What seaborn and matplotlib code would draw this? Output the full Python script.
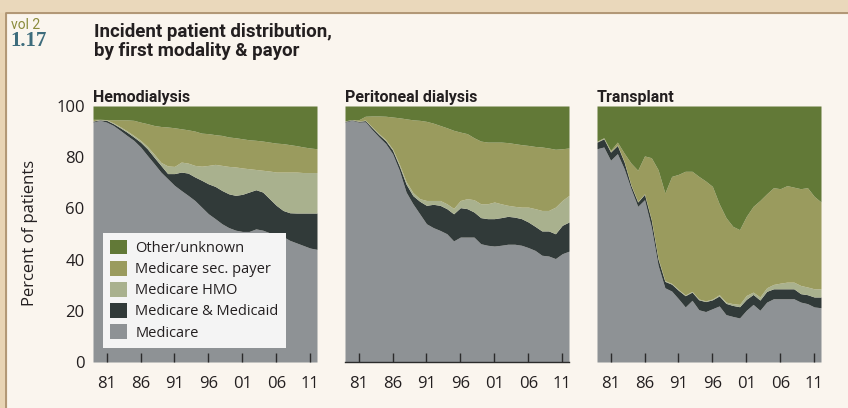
import numpy as np
import matplotlib.pyplot as plt
from matplotlib.patches import Rectangle, Patch
from matplotlib.lines import Line2D
import seaborn as sns

# incident patients by first modality & payor, percent (upper edge of each band, stacked)
years = np.arange(1979, 2013)
tick_years = [1981, 1986, 1991, 1996, 2001, 2006, 2011]
tick_labels = ['81', '86', '91', '96', '01', '06', '11']

payers = ['Medicare', 'Medicare & Medicaid', 'Medicare HMO', 'Medicare sec. payer', 'Other/unknown']
colors = ['#8e9295', '#313a39', '#a9b18e', '#9a9b5e', '#627937']

hd_medicare = [93.7, 94.4, 93.7, 92.4, 90.5, 88.5, 86.6, 84.0, 80.7, 77.5, 74.2, 71.6, 69.0, 67.0, 65.1, 63.1, 60.5,
               57.9, 56.0, 54.0, 52.5, 51.5, 51.0, 51.0, 52.0, 51.5, 50.5, 50.0, 49.0, 47.5, 46.5, 45.5, 44.5, 44.0]
hd_medicaid = [94.1, 94.6, 94.4, 93.1, 91.5, 89.8, 87.9, 85.9, 83.3, 80.0, 76.8, 73.6, 73.6, 74.2, 73.8, 72.3, 71.0,
               69.6, 68.6, 67.0, 65.7, 65.1, 65.5, 66.4, 67.3, 66.4, 63.8, 61.2, 59.2, 58.3, 58.2, 58.2, 58.2, 58.2]
hd_hmo = [94.2, 94.8, 94.6, 93.4, 91.9, 90.3, 88.5, 86.6, 84.2, 81.2, 78.0, 76.6, 76.4, 78.1, 77.7, 76.8, 76.5,
          76.8, 77.2, 76.8, 76.4, 76.2, 75.8, 75.5, 75.2, 74.9, 74.6, 74.2, 74.2, 74.2, 74.2, 74.0, 74.0, 74.0]
hd_msp = [94.8, 94.8, 94.7, 94.6, 94.6, 94.6, 94.4, 93.7, 93.1, 92.4, 92.0, 91.8, 91.5, 91.1, 90.7, 90.2, 89.4,
          89.2, 88.8, 88.5, 87.9, 87.6, 87.2, 86.8, 86.6, 86.3, 85.9, 85.5, 85.3, 84.9, 84.5, 84.0, 83.6, 83.3]

pd_medicare = [93.7, 94.4, 93.7, 93.8, 90.7, 87.9, 85.3, 81.4, 74.9, 66.4, 61.8, 57.9, 54.0, 52.5, 51.4, 50.1, 47.3,
               48.8, 48.8, 48.8, 46.2, 45.6, 45.3, 45.6, 46.0, 46.0, 45.6, 44.7, 43.6, 41.7, 41.4, 40.4, 42.3, 43.3]
pd_medicaid = [94.0, 94.6, 94.0, 94.3, 91.5, 88.8, 86.4, 82.8, 76.6, 69.5, 65.0, 62.8, 61.2, 61.6, 61.2, 59.9, 57.9,
               60.3, 59.9, 58.6, 56.4, 56.0, 56.0, 56.4, 56.9, 56.6, 56.0, 54.7, 53.0, 51.2, 51.2, 50.1, 53.4, 54.7]
pd_hmo = [94.1, 94.7, 94.1, 94.5, 91.8, 89.2, 86.8, 83.3, 77.3, 70.5, 66.2, 63.8, 63.1, 63.1, 63.1, 61.8, 60.0,
          63.1, 63.8, 63.4, 61.8, 61.8, 62.5, 61.8, 61.2, 60.8, 60.5, 60.5, 59.9, 59.2, 59.2, 60.5, 63.1, 65.1]
pd_msp = [94.2, 94.7, 94.6, 96.0, 96.1, 96.1, 96.0, 95.7, 95.4, 95.0, 94.6, 94.4, 94.0, 93.3, 92.4, 91.5, 90.5,
          89.8, 89.2, 87.6, 86.3, 85.9, 85.9, 85.9, 85.7, 85.3, 84.9, 84.6, 84.2, 84.0, 83.6, 83.1, 83.3, 83.6]

tx_medicare = [83.3, 84.0, 78.8, 81.4, 75.5, 67.7, 60.8, 63.4, 52.7, 37.8, 29.0, 27.7, 24.7, 21.5, 24.1, 20.4, 19.7,
               20.8, 21.9, 18.5, 17.8, 17.2, 20.2, 22.5, 20.2, 23.4, 24.7, 24.7, 24.7, 24.7, 23.4, 22.8, 21.5, 21.2]
tx_medicaid = [85.9, 87.2, 82.0, 84.6, 78.1, 69.0, 62.5, 65.5, 55.5, 40.2, 31.5, 30.4, 28.0, 25.9, 27.3, 24.3, 23.6,
               24.3, 25.8, 22.9, 22.1, 21.6, 24.5, 26.4, 24.2, 27.6, 28.6, 28.6, 28.6, 28.6, 26.7, 26.3, 25.4, 25.4]
tx_hmo = [86.1, 87.4, 82.2, 84.8, 78.3, 69.2, 62.7, 65.7, 55.7, 40.5, 31.8, 30.7, 28.3, 26.2, 27.6, 24.6, 23.9,
          24.6, 26.3, 23.4, 22.8, 22.5, 26.0, 27.3, 25.4, 29.0, 30.3, 30.8, 31.2, 31.2, 29.9, 29.3, 28.6, 28.6]
tx_msp = [86.3, 87.6, 82.7, 85.9, 81.6, 77.7, 74.9, 80.5, 79.8, 75.1, 66.0, 72.5, 73.3, 74.5, 74.5, 72.5, 70.7,
          68.6, 61.8, 56.4, 53.0, 51.7, 56.9, 60.8, 63.1, 65.7, 68.1, 67.7, 68.9, 68.3, 67.7, 68.1, 64.7, 62.5]

panels = [
    ('Hemodialysis', [hd_medicare, hd_medicaid, hd_hmo, hd_msp]),
    ('Peritoneal dialysis', [pd_medicare, pd_medicaid, pd_hmo, pd_msp]),
    ('Transplant', [tx_medicare, tx_medicaid, tx_hmo, tx_msp]),
]

sns.set_theme(style='white')
plt.rcParams['font.family'] = ['Open Sans', 'DejaVu Sans']
narrow = ['Liberation Sans Narrow', 'Roboto', 'DejaVu Sans']
ink = '#231f20'

W, H = 848, 408
fig = plt.figure(figsize=(W / 100, H / 100), dpi=100)
fig.patch.set_facecolor('#faf5ee')

# page frame
fig.patches.append(Rectangle((0, 1 - 13 / H), 1, 13 / H, transform=fig.transFigure, color='#ead8bb', zorder=0))
fig.patches.append(Rectangle((0, 0), 6 / W, 1 - 13 / H, transform=fig.transFigure, color='#e8d4b4', zorder=0))
fig.lines.append(Line2D([6 / W, 6 / W, 1], [0, 1 - 13 / H, 1 - 13 / H], transform=fig.transFigure,
                        color='#ad9270', lw=1.3))

fig.text(11 / W, 1 - 29 / H, 'vol 2', fontsize=10, color='#8a8b3b', family=narrow, va='baseline')
fig.text(10 / W, 1 - 46 / H, '1.17', fontsize=15, color='#3d6c7c', family='Liberation Serif',
         weight='bold', va='baseline')
fig.text(94 / W, 1 - 37 / H, 'Incident patient distribution,', fontsize=13.5, weight='bold',
         family=narrow, color=ink, va='baseline')
fig.text(94 / W, 1 - 56 / H, 'by first modality & payor', fontsize=13.5, weight='bold',
         family=narrow, color=ink, va='baseline')
fig.text(30 / W, 1 - 233 / H, 'Percent of patients', rotation=90, ha='center', va='center',
         fontsize=12, color=ink)

lefts = [93, 345, 597]
axes = []
for i, (title, edges) in enumerate(panels):
    ax = fig.add_axes([lefts[i] / W, 46 / H, 224 / W, 256 / H])
    lows = [np.zeros(len(years))] + [np.array(e) for e in edges]
    highs = [np.array(e) for e in edges] + [np.full(len(years), 100.0)]
    for lo, hi, c in zip(lows, highs, colors):
        ax.fill_between(years, lo, hi, color=c, lw=0, zorder=1)
    ax.set_xlim(1979, 2012)
    ax.set_ylim(0, 100)
    sns.despine(ax=ax, left=True, bottom=(i != 1), top=True, right=True)
    ax.set_xticks(tick_years)
    ax.set_xticklabels(tick_labels)
    ax.xaxis.set_ticks_position('bottom')
    ax.tick_params(axis='x', which='major', direction='in', length=6.5, width=1, color='#2b2b2b',
                   pad=10, labelsize=12, labelcolor=ink, bottom=True, top=False)
    if i == 0:
        ax.set_yticks(range(0, 101, 20))
        ax.tick_params(axis='y', length=0, pad=6, labelsize=12, labelcolor=ink)
    else:
        ax.set_yticks([])
    if i == 1:
        ax.spines['bottom'].set_color('#2b2b2b')
        ax.spines['bottom'].set_linewidth(1)
    ax.set_axisbelow(False)
    ax.text(0, 1 + 4.3 / 256, title, transform=ax.transAxes, fontsize=11.5, weight='bold',
            family=narrow, color=ink, va='baseline', ha='left')
    ax.set_facecolor('none')
    axes.append(ax)

handles = [Patch(facecolor=c, edgecolor='none') for c in colors][::-1]
leg = axes[0].legend(handles, payers[::-1], loc='lower left', bbox_to_anchor=(0.045, 0.055),
                     borderaxespad=0, frameon=True, fancybox=False, framealpha=1,
                     facecolor='#f4f4f4', edgecolor='none', fontsize=10.5,
                     handlelength=1.15, handleheight=1.15, handletextpad=0.55,
                     labelspacing=0.34, borderpad=0.5)
for t in leg.get_texts():
    t.set_color(ink)

fig.savefig('out.png', dpi=100, facecolor=fig.get_facecolor())
